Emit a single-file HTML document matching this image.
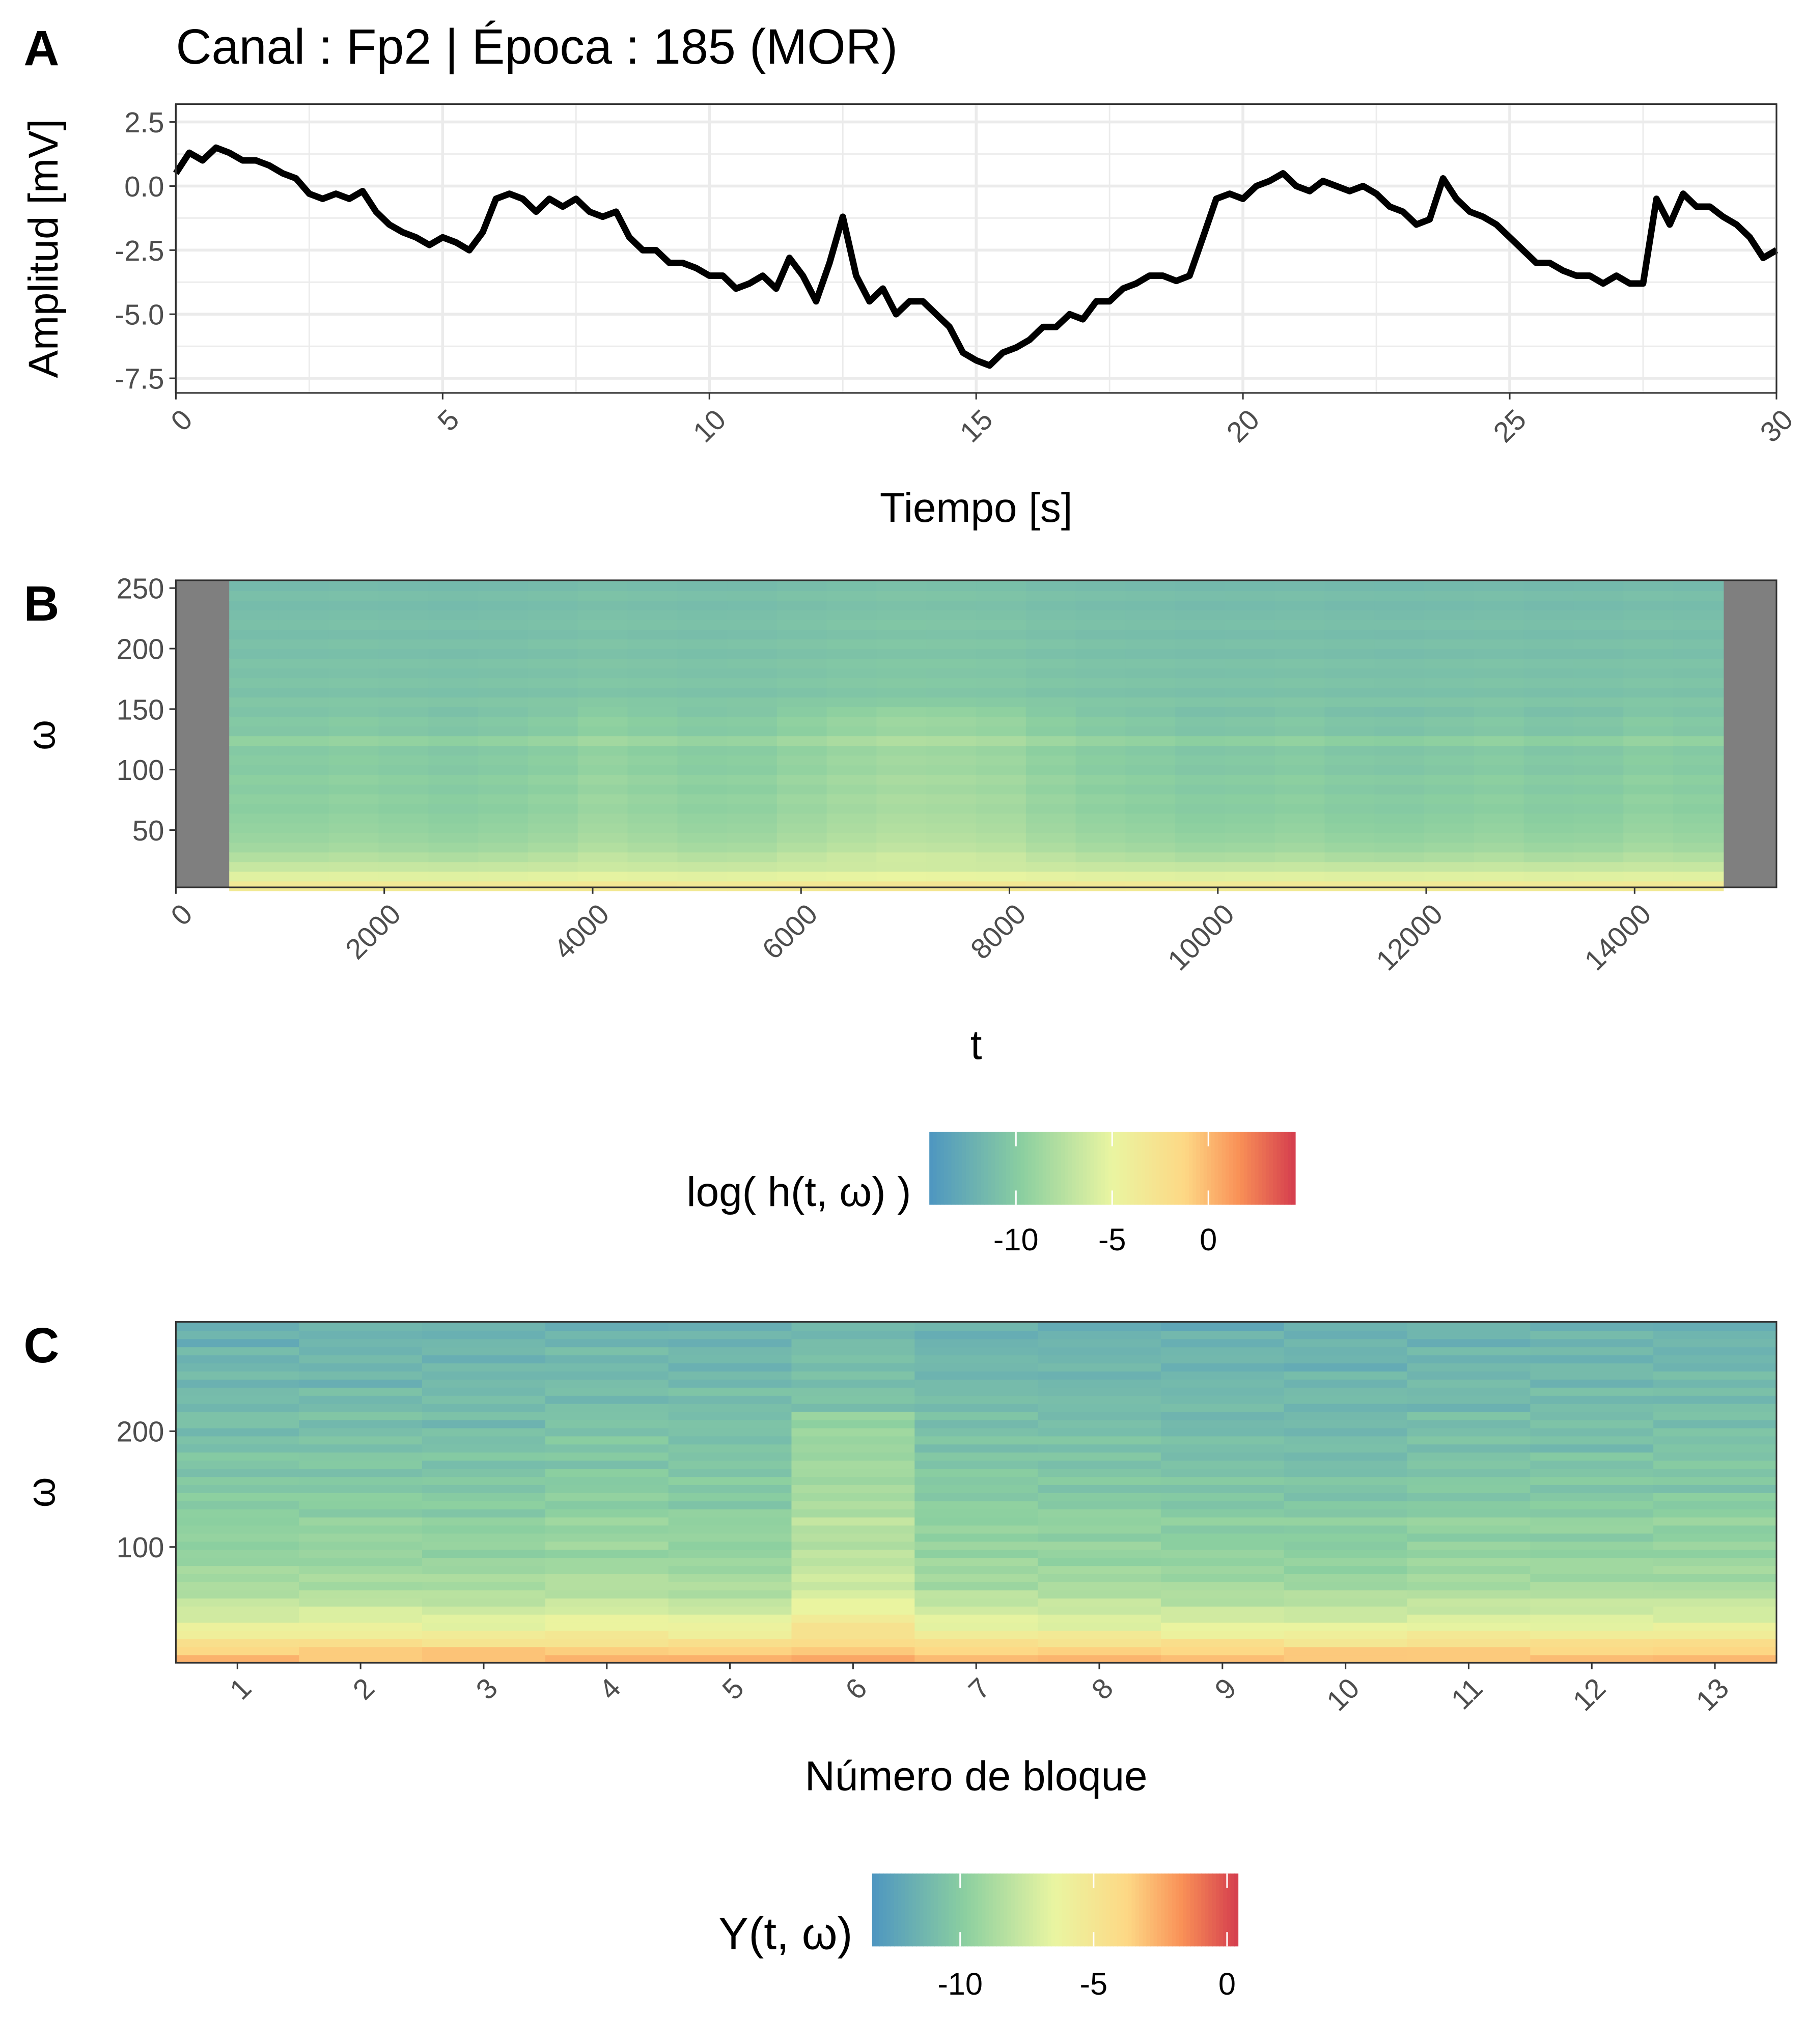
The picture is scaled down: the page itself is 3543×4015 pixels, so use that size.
<!DOCTYPE html>
<html><head><meta charset="utf-8"><style>
html,body{margin:0;padding:0;background:#fff}
svg{display:block}
text{font-family:"Liberation Sans",Arial,sans-serif}
</style></head><body>
<svg id="fig" width="3543" height="4015" viewBox="0 0 1386 1571" xmlns="http://www.w3.org/2000/svg">
<rect width="1386" height="1571" fill="#fff"/>
<g id="pa"></g>
<g id="pb"></g>
<g id="pc"></g>
</svg>
<script>
// ---------- Data ----------
const signalTimes = [];
for (let i = 0; i <= 120; i++) signalTimes.push(i * 0.25);
const signalValues = [0.5,1.3,1.0,1.5,1.3,1.0,1.0,0.8,0.5,0.3,-0.3,-0.5,-0.3,-0.5,-0.2,-1.0,-1.5,-1.8,-2.0,-2.3,-2.0,-2.2,-2.5,-1.8,-0.5,-0.3,-0.5,-1.0,-0.5,-0.8,-0.5,-1.0,-1.2,-1.0,-2.0,-2.5,-2.5,-3.0,-3.0,-3.2,-3.5,-3.5,-4.0,-3.8,-3.5,-4.0,-2.8,-3.5,-4.5,-3.0,-1.2,-3.5,-4.5,-4.0,-5.0,-4.5,-4.5,-5.0,-5.5,-6.5,-6.8,-7.0,-6.5,-6.3,-6.0,-5.5,-5.5,-5.0,-5.2,-4.5,-4.5,-4.0,-3.8,-3.5,-3.5,-3.7,-3.5,-2.0,-0.5,-0.3,-0.5,0.0,0.2,0.5,0.0,-0.2,0.2,0.0,-0.2,0.0,-0.3,-0.8,-1.0,-1.5,-1.3,0.3,-0.5,-1.0,-1.2,-1.5,-2.0,-2.5,-3.0,-3.0,-3.3,-3.5,-3.5,-3.8,-3.5,-3.8,-3.8,-0.5,-1.5,-0.3,-0.8,-0.8,-1.2,-1.5,-2.0,-2.8,-2.5];
const yTicksA = [2.5,0.0,-2.5,-5.0,-7.5];
const yTickLabelsA = ["2.5","0.0","-2.5","-5.0","-7.5"];
const xTicksA = [0,5,10,15,20,25,30];

const specFreqProfile = [-3.5,-5.5,-6.8,-7.8,-8.6,-9.0,-9.3,-9.5,-9.8,-9.6,-10.0,-9.7,-10.2,-10.0,-10.3,-9.4,-10.5,-10.3,-10.8,-10.5,-11.0,-10.7,-11.0,-10.8,-11.2,-10.9,-11.3,-11.0,-11.2,-11.4,-11.1,-11.5];
const specTimeOffset = [0,0,0.2,0,-0.2,0,0.3,0.8,0.5,0.2,0.3,0.8,1.2,1.5,1.4,1.2,0.6,0.2,0,-0.3,-0.2,0,-0.3,-0.4,-0.2,0,-0.3,-0.2,0.2,0];
const xTicksB = [0,2000,4000,6000,8000,10000,12000,14000];
const yTicksB = [50,100,150,200,250];
const legendTicksB = [-10,-5,0];

const blockLabels = ["1","2","3","4","5","6","7","8","9","10","11","12","13"];
const blockFreqProfile = [-3.0,-3.5,-4.6,-5.6,-6.4,-7.0,-7.5,-8.0,-8.4,-8.8,-9.0,-9.2,-9.4,-9.6,-9.5,-9.8,-9.7,-9.6,-10.0,-10.1,-10.2,-10.4,-10.3,-10.5,-10.6,-10.5,-10.8,-10.7,-10.9,-11.0,-10.8,-11.1,-11.2,-11.0,-11.3,-11.2,-11.4,-11.5,-11.3,-11.6,-11.5,-11.7];
const blockOffset = [0,0.1,0,0.3,0.1,1.4,0.1,0,-0.2,-0.3,0,0,0.1];
const blockRowJitter = [0.4,-0.3,0.2,-0.2,0.3,-0.4,0.1,0.3,-0.3,0.2,-0.1,0.4,-0.2,0.1,-0.4,0.3,0.0,-0.3,0.2,-0.2,0.4,-0.1,0.2,-0.4,0.1,0.3,-0.2,0.0,-0.5,0.3,0.1,-0.3,0.2,-0.1,-0.4,0.3,0.0,-0.2,0.3,-0.6,0.1,-0.2];
const yTicksC = [100,200];
const legendTicksC = [-10,-5,0];

// ---------- helpers ----------
const NS = "http://www.w3.org/2000/svg";
function mk(tag, attrs, parent, txt){const e=document.createElementNS(NS,tag);for(const k in attrs)e.setAttribute(k,attrs[k]);if(txt!==undefined)e.textContent=txt;parent.appendChild(e);return e;}
const stops=[[0,[79,151,192]],[0.25,[139,207,160]],[0.5,[234,245,161]],[0.7,[253,216,133]],[0.85,[249,145,87]],[1,[214,64,78]]];
function pal(f){f=Math.max(0,Math.min(1,f));for(let i=1;i<stops.length;i++){if(f<=stops[i][0]){const a=stops[i-1],b=stops[i];const u=(f-a[0])/(b[0]-a[0]);const c=a[1].map((v,j)=>Math.round(v+(b[1][j]-v)*u));return `rgb(${c[0]},${c[1]},${c[2]})`;}}return "rgb(214,64,78)";}
const GRAY="#4d4d4d";
const TK=22, AT=32;

// ---------- Panel A ----------
const pa=document.getElementById('pa');
const A={x0:135,x1:1365,y0:80,y1:302};
const ax=t=>A.x0+(t-0)/30*(A.x1-A.x0);
const ay=v=>143-v*19.7;
let t=mk('text',{x:18,y:50,'font-size':38,'font-weight':'bold'},pa,'A');

t=mk('text',{x:135,y:49,'font-size':38},pa,'Canal : Fp2 | Época : 185 (MOR)');

for(let v=-8.75;v<=3;v+=1.25){const y=ay(v);if(y<A.y0||y>A.y1)continue;const major=Math.abs(v/2.5-Math.round(v/2.5))<1e-6;const l=mk('line',{x1:A.x0,x2:A.x1,y1:y,y2:y,stroke:'#ebebeb','stroke-width':major?2.2:1.1},pa);}
for(let v=0;v<=30;v+=2.5){const x=ax(v);const major=v%5===0;const l=mk('line',{x1:x,x2:x,y1:A.y0,y2:A.y1,stroke:'#ebebeb','stroke-width':major?2.2:1.1},pa);}
let d='';signalValues.forEach((v,i)=>{d+=(i?'L':'M')+ax(signalTimes[i]).toFixed(1)+','+ay(v).toFixed(1);});
const sig=mk('path',{d:d,fill:'none',stroke:'#000','stroke-width':5,'stroke-linejoin':'round'},pa);

let r=mk('rect',{x:A.x0,y:A.y0,width:A.x1-A.x0,height:A.y1-A.y0,fill:'none',stroke:'#333','stroke-width':1.2},pa);

yTicksA.forEach((v,i)=>{const y=ay(v);mk('line',{x1:A.x0-5,x2:A.x0,y1:y,y2:y,stroke:'#333','stroke-width':1.2},pa);const e=mk('text',{x:A.x0-9,y:y+8,'font-size':TK,fill:GRAY,'text-anchor':'end'},pa,yTickLabelsA[i]);});
xTicksA.forEach(v=>{const x=ax(v);mk('line',{x1:x,x2:x,y1:A.y1,y2:A.y1+5,stroke:'#333','stroke-width':1.2},pa);const e=mk('text',{x:x+14,y:A.y1+22,'font-size':TK,fill:GRAY,'text-anchor':'end',transform:`rotate(-45 ${x+14} ${A.y1+22})`},pa,String(v));});
t=mk('text',{x:750,y:401,'font-size':AT,'text-anchor':'middle'},pa,'Tiempo [s]');

t=mk('text',{x:44,y:191,'font-size':AT,'text-anchor':'middle',transform:'rotate(-90 44 191)'},pa,'Amplitud [mV]');


// ---------- Panel B ----------
const pb=document.getElementById('pb');
const B={x0:135,x1:1365,y0:446,y1:682};
const bx=v=>B.x0+v*0.08007;
const by=f=>684.5-f*0.93;
const bcol=v=>pal((v+14.5)/19);
t=mk('text',{x:18,y:477,'font-size':38,'font-weight':'bold'},pb,'B');

r=mk('rect',{x:B.x0,y:B.y0,width:B.x1-B.x0,height:B.y1-B.y0,fill:'#7f7f7f'},pb);

const tStart=512,tEnd=14848,nC=specTimeOffset.length,tw=(tEnd-tStart)/nC;
specTimeOffset.forEach((off,c)=>{specFreqProfile.forEach((fv,rI)=>{const f0=rI*8,f1=rI*8+8;const w=(rI>=3&&rI<=18)?off:off*0.3;const cell=mk('rect',{x:bx(tStart+c*tw),y:by(Math.min(f1,256)),width:tw*0.08007+0.6,height:(Math.min(f1,256)-f0)*0.93+0.4,fill:bcol(fv+w)},pb);});});
r=mk('rect',{x:B.x0,y:B.y0,width:B.x1-B.x0,height:B.y1-B.y0,fill:'none',stroke:'#333','stroke-width':1.2},pb);

yTicksB.forEach(v=>{const y=by(v);mk('line',{x1:B.x0-5,x2:B.x0,y1:y,y2:y,stroke:'#333','stroke-width':1.2},pb);const e=mk('text',{x:B.x0-9,y:y+8,'font-size':TK,fill:GRAY,'text-anchor':'end'},pb,String(v));});
xTicksB.forEach(v=>{const x=bx(v);mk('line',{x1:x,x2:x,y1:B.y1,y2:B.y1+5,stroke:'#333','stroke-width':1.2},pb);const e=mk('text',{x:x+14,y:B.y1+22,'font-size':TK,fill:GRAY,'text-anchor':'end',transform:`rotate(-45 ${x+14} ${B.y1+22})`},pb,String(v));});
t=mk('text',{x:750,y:814,'font-size':AT,'text-anchor':'middle'},pb,'t');

t=mk('text',{x:42,y:565,'font-size':30,'text-anchor':'middle','font-family':'Liberation Serif, serif',transform:'rotate(-90 42 565)'},pb,'ω');

const LB={x0:714,x1:995,y0:870,y1:926};
for(let i=0;i<100;i++){const x=LB.x0+i*(LB.x1-LB.x0)/100;const s=mk('rect',{x:x,y:LB.y0,width:(LB.x1-LB.x0)/100+0.5,height:LB.y1-LB.y0,fill:pal(i/99)},pb);}
const lbx=v=>LB.x0+(v+14.5)/19*(LB.x1-LB.x0);
legendTicksB.forEach(v=>{const x=lbx(v);mk('line',{x1:x,x2:x,y1:LB.y0,y2:LB.y0+11,stroke:'#fff','stroke-width':1.2},pb);mk('line',{x1:x,x2:x,y1:LB.y1-11,y2:LB.y1,stroke:'#fff','stroke-width':1.2},pb);const e=mk('text',{x:x,y:961,'font-size':24,fill:'#000','text-anchor':'middle'},pb,String(v));});
t=mk('text',{x:700,y:927,'font-size':32,'text-anchor':'end'},pb,'log( h(t, ω) )');


// ---------- Panel C ----------
const pc=document.getElementById('pc');
const C={x0:135,x1:1365,y0:1016,y1:1278};
const bw=(C.x1-C.x0)/13;
const cy=f=>1278-f*0.89;
const ccol=v=>pal((v+13.3)/13.7);
t=mk('text',{x:18,y:1047,'font-size':38,'font-weight':'bold'},pc,'C');

const rowH=294/blockFreqProfile.length;
blockOffset.forEach((off,b)=>{blockFreqProfile.forEach((fv,rI)=>{const j=blockRowJitter[(rI+b*5)%blockRowJitter.length];const w=(rI>=3&&rI<=30)?off:off*0.3;const cell=mk('rect',{x:C.x0+b*bw,y:cy((rI+1)*rowH),width:bw+0.5,height:rowH*0.89+0.4,fill:ccol(fv+w+j)},pc);});});
r=mk('rect',{x:C.x0,y:C.y0,width:C.x1-C.x0,height:C.y1-C.y0,fill:'none',stroke:'#333','stroke-width':1.2},pc);

yTicksC.forEach(v=>{const y=cy(v);mk('line',{x1:C.x0-5,x2:C.x0,y1:y,y2:y,stroke:'#333','stroke-width':1.2},pc);const e=mk('text',{x:C.x0-9,y:y+8,'font-size':TK,fill:GRAY,'text-anchor':'end'},pc,String(v));});
blockLabels.forEach((lab,b)=>{const x=C.x0+(b+0.5)*bw;mk('line',{x1:x,x2:x,y1:C.y1,y2:C.y1+5,stroke:'#333','stroke-width':1.2},pc);const e=mk('text',{x:x+12,y:C.y1+21,'font-size':TK,fill:GRAY,'text-anchor':'end',transform:`rotate(-45 ${x+12} ${C.y1+21})`},pc,lab);});
t=mk('text',{x:750,y:1376,'font-size':AT,'text-anchor':'middle'},pc,'Número de bloque');

t=mk('text',{x:42,y:1147,'font-size':30,'text-anchor':'middle','font-family':'Liberation Serif, serif',transform:'rotate(-90 42 1147)'},pc,'ω');

const LC={x0:670,x1:951,y0:1440,y1:1496};
for(let i=0;i<100;i++){const x=LC.x0+i*(LC.x1-LC.x0)/100;const s=mk('rect',{x:x,y:LC.y0,width:(LC.x1-LC.x0)/100+0.5,height:LC.y1-LC.y0,fill:pal(i/99)},pc);}
const lcx=v=>LC.x0+(v+13.3)/13.7*(LC.x1-LC.x0);
legendTicksC.forEach(v=>{const x=lcx(v);mk('line',{x1:x,x2:x,y1:LC.y0,y2:LC.y0+11,stroke:'#fff','stroke-width':1.2},pc);mk('line',{x1:x,x2:x,y1:LC.y1-11,y2:LC.y1,stroke:'#fff','stroke-width':1.2},pc);const e=mk('text',{x:x,y:1533,'font-size':24,fill:'#000','text-anchor':'middle'},pc,String(v));});
t=mk('text',{x:655,y:1498,'font-size':35,'text-anchor':'end','font-family':'Liberation Serif, serif'},pc,'Y(t, ω)');

</script>
</body></html>
